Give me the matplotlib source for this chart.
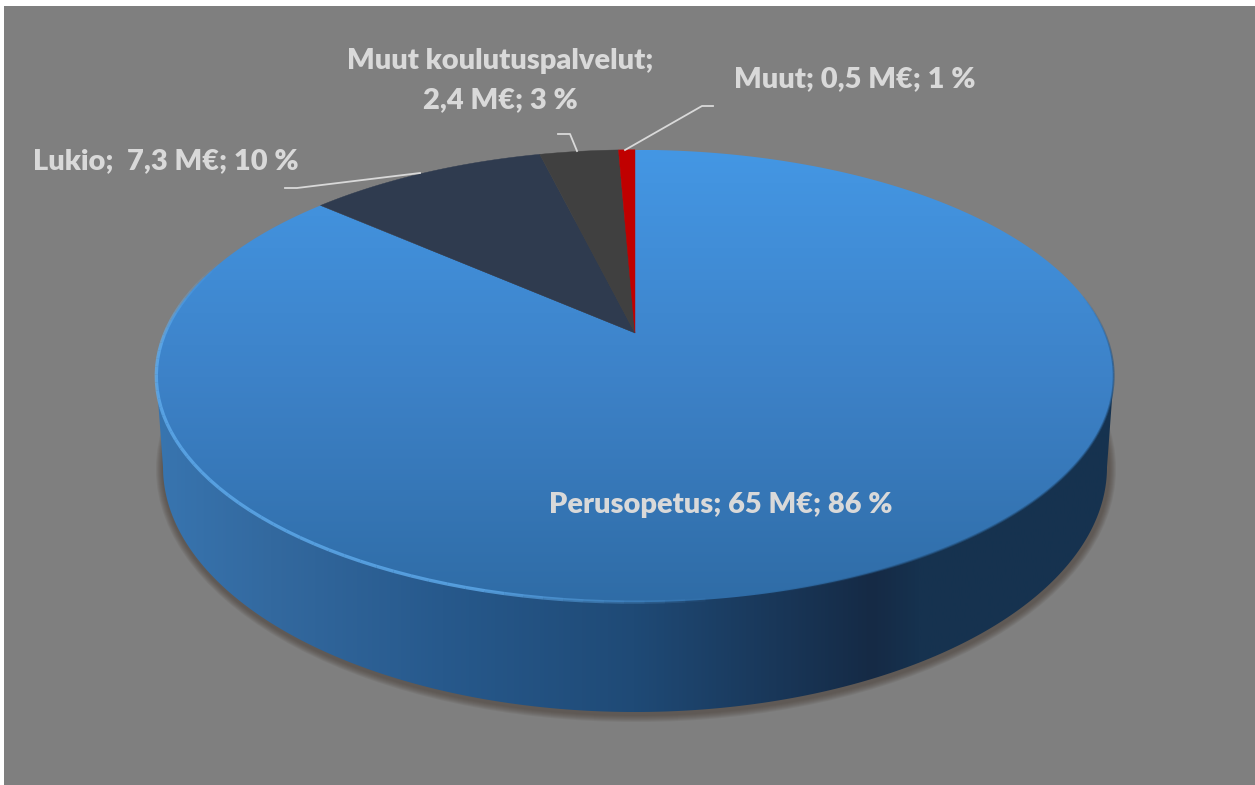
import numpy as np
import matplotlib
matplotlib.use("Agg")
import matplotlib.pyplot as plt
from matplotlib.colors import LinearSegmentedColormap
from matplotlib.patches import Ellipse, Polygon, Rectangle

plt.rcParams['font.family'] = ['Lato', 'DejaVu Sans']

# data, clockwise from 12 o'clock
names = ['Perusopetus', 'Lukio', 'Muut koulutuspalvelut', 'Muut']
values = [65, 7.3, 2.4, 0.5]
colors = ['#4496e3', '#2f3b4f', '#404040', '#c00000']

W, H = 1255, 785
cx, cy = 635, 333     # apex of the pie in pixels
R, B, p = 470, 218, 0.19    # perspective of the top disc
bot_cy, bot_rx, bot_ry = 467, 472, 245
txt = '#d9d9d9'


def project(theta):
    u, v = np.sin(theta), -np.cos(theta)
    w = 1 / (1 - p * v)
    return cx + R * u * w, cy + B * v * w


def gradient(ax, patch, stops, horizontal, extent):
    cmap = LinearSegmentedColormap.from_list('g', stops)
    grad = np.linspace(0, 1, 512)
    grad = grad.reshape(1, -1) if horizontal else grad.reshape(-1, 1)
    im = ax.imshow(grad, cmap=cmap, extent=extent, aspect='auto', zorder=patch.get_zorder())
    ax.add_patch(patch)
    im.set_clip_path(patch)


def rim(ax, start, stop, color, lw, alpha):
    # arc drawn in short pieces so both ends fade out
    a = np.linspace(start, stop, 61)
    x, y = project(a)
    for j in range(60):
        fade = min(1, min(j, 59 - j) / 12)
        ax.plot(x[j:j + 2], y[j:j + 2], color=color, lw=lw, alpha=alpha * fade,
                solid_capstyle='butt', zorder=4)


fig = plt.figure(figsize=(W / 100, H / 100), dpi=100, facecolor='white')
ax = fig.add_axes([0, 0, 1, 1])
ax.axis('off')

ax.add_patch(Rectangle((4, 6), W, H, fc='#7f7f7f', ec='none', zorder=0))

# soft shadow under the disc
for i in range(7):
    ax.add_patch(Ellipse((cx + 1, bot_cy + 2), 2 * (bot_rx + 8 - i), 2 * (bot_ry + 8 - i),
                         fc='#4a4038', ec='none', alpha=0.11, zorder=1))

# side wall
t = np.linspace(0, np.pi, 300)
wall_x = np.r_[cx + R / np.sqrt(1 - p**2), cx + bot_rx * np.cos(t), cx - R / np.sqrt(1 - p**2)]
wall_y = np.r_[376, bot_cy + bot_ry * np.sin(t), 376]
wall = Polygon(np.c_[wall_x, wall_y], closed=True, fc='none', ec='none', zorder=2)
gradient(ax, wall,
         [(0, '#3875b0'), (0.12, '#33699f'), (0.3, '#27598c'), (0.5, '#1f4a76'),
          (0.75, '#152a45'), (0.8, '#16324f'), (1, '#163350')],
         True, (155, 1113, 785, 0))

# top disc, every slice from the values
shares = np.array(values) / sum(values)
edges = np.r_[0, np.cumsum(shares)] * 2 * np.pi
for i, name in enumerate(names):
    a = np.linspace(edges[i], edges[i + 1], 400)
    x, y = project(a)
    verts = np.c_[np.r_[cx, x], np.r_[cy, y]]
    if i == 0:
        poly = Polygon(verts, closed=True, fc='none', ec='none', zorder=3)
        gradient(ax, poly, [(0, '#4497e4'), (0.5, '#3d82c8'), (1, '#2f6ca6')],
                 False, (150, 1120, 604, 150))
    else:
        ax.add_patch(Polygon(verts, closed=True, fc=colors[i], ec=colors[i], lw=0.3, zorder=3))

# rim highlight on the blue slice
rim(ax, np.pi * 0.95, np.pi * 1.62, '#5fabec', 2.4, 0.8)
rim(ax, np.pi / 2 - 0.2, np.pi * 0.95, '#24527f', 1.4, 0.6)

# leader lines
ax.plot([285, 297, 420], [188, 188, 173], color=txt, lw=1.3, zorder=5)
ax.plot([558, 570, 577], [134, 134, 151], color=txt, lw=1.3, zorder=5)
ax.plot([713, 702, 625], [106, 106, 150], color=txt, lw=1.3, zorder=5)

# labels
fs = 20.9
kw = dict(color=txt, fontsize=fs, fontweight='heavy', ha='center', va='center', zorder=6)
ax.text(720.5, 505, 'Perusopetus; 65 M€; 86 %', **kw)
ax.text(166, 161, 'Lukio;  7,3 M€; 10 %', **kw)
ax.text(500, 61, 'Muut koulutuspalvelut;', **kw)
ax.text(500, 100, '2,4 M€; 3 %', **kw)
ax.text(855, 79, 'Muut; 0,5 M€; 1 %', **kw)

ax.set_xlim(0, W)
ax.set_ylim(H, 0)

fig.savefig('out.png', dpi=100)
